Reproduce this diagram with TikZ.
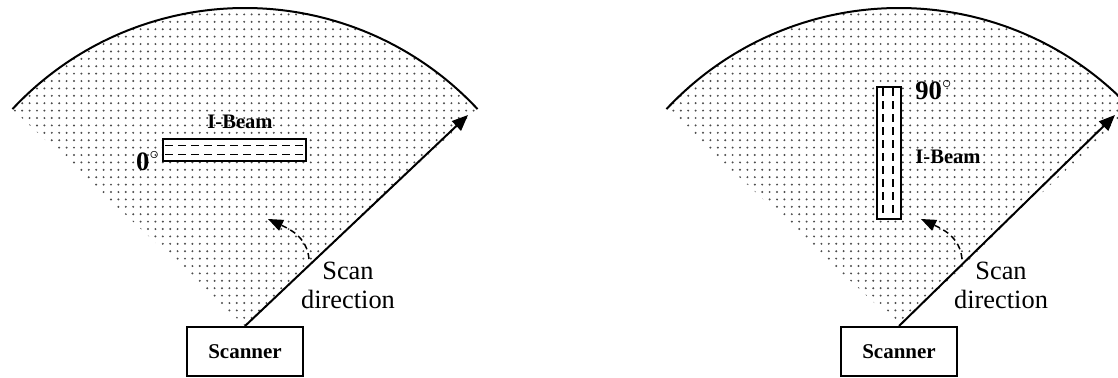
\documentclass[tikz,border=0pt]{standalone}
\usepackage{fontspec}
\setmainfont{Liberation Serif}
\usetikzlibrary{positioning,patterns.meta,arrows.meta}

\tikzset{
  zone/.style={pattern={Dots[distance=3.7pt,radius=0.55pt]}, pattern color=black!70},
  rim/.style={line width=1pt},
  scanline/.style={line width=1pt, -{Triangle[length=8pt,width=6.5pt]}},
  sweep/.style={line width=0.75pt, dash pattern=on 3pt off 2pt, -{Triangle[length=7.5pt,width=6pt,line width=0pt]}},
  scanbox/.style={draw, line width=1pt, fill=white, minimum width=58pt, minimum height=24.5pt, inner sep=0pt, font=\bfseries\fontsize{10.5}{12}\selectfont},
  beam/.style={draw, line width=1pt, fill=white, inner sep=0pt},
  beamdash/.style={line width=0.75pt, dash pattern=on 4pt off 2.5pt},
  beamlbl/.style={inner sep=0pt, font=\bfseries\fontsize{10.3}{12}\selectfont},
  anglbl/.style={inner sep=0pt, font=\bfseries\fontsize{13.3}{15}\selectfont},
  dirlbl/.style={inner sep=0pt, align=center, font=\fontsize{13.2}{14.5}\selectfont}
}

\begin{document}
\begin{tikzpicture}[x=0.5pt, y=0.5pt]
  \useasboundingbox (0,0) rectangle (1118,377);

  % 左图：0° 方向
  \node[scanbox] (scanL) at (245,25.5) {Scanner};
  \fill[zone] (scanL.north) -- ++(43:318) arc[start angle=43, end angle=137, radius=318] -- cycle;
  \draw[rim] (scanL.north) ++(43:318) arc[start angle=43, end angle=137, radius=318];
  \coordinate (tipL) at (468,262);
  \draw[scanline] (scanL.north) -- (tipL);

  \node[beam, minimum width=71.5pt, minimum height=11pt] (beamL) at (234.5,227) {};
  \draw[beamdash] ([xshift=1.5pt,yshift=-3.8pt]beamL.north west) -- ([xshift=-1pt,yshift=-3.8pt]beamL.north east);
  \draw[beamdash] ([xshift=1.5pt,yshift=3.8pt]beamL.south west) -- ([xshift=-1pt,yshift=3.8pt]beamL.south east);
  \node[beamlbl] (lblL) at (240,255) {I-Beam};
  \node[anglbl] (angL) at (148,216) {0$^{\circ}$};

  \coordinate (swL0) at (309,118);
  \coordinate (swL1) at (268,158);
  \draw[sweep] (swL0) to[out=95, in=-25] (swL1);
  \node[dirlbl] (dirL) at (348,92) {Scan\\direction};

  % 右图：90° 方向
  \node[scanbox] (scanR) at (899,25.5) {Scanner};
  \fill[zone] (scanR.north) -- ++(43:318) arc[start angle=43, end angle=137, radius=318] -- cycle;
  \draw[rim] (scanR.north) ++(43:318) arc[start angle=43, end angle=137, radius=318];
  \coordinate (tipR) at (1115,262);
  \draw[scanline] (scanR.north) -- (tipR);

  \node[beam, minimum width=12pt, minimum height=66pt] (beamR) at (889,224) {};
  \draw[beamdash] ([xshift=3.5pt,yshift=-1pt]beamR.north west) -- ([xshift=3.5pt,yshift=1pt]beamR.south west);
  \draw[beamdash] ([xshift=-4.5pt,yshift=-1pt]beamR.north east) -- ([xshift=-4.5pt,yshift=1pt]beamR.south east);
  \node[anglbl, anchor=west] (angR) at (915,287) {90$^{\circ}$};
  \node[beamlbl, anchor=west] (lblR) at (915,220) {I-Beam};

  \coordinate (swR0) at (962,118);
  \coordinate (swR1) at (921,158);
  \draw[sweep] (swR0) to[out=95, in=-25] (swR1);
  \node[dirlbl] (dirR) at (1001,92) {Scan\\direction};
\end{tikzpicture}
\end{document}
